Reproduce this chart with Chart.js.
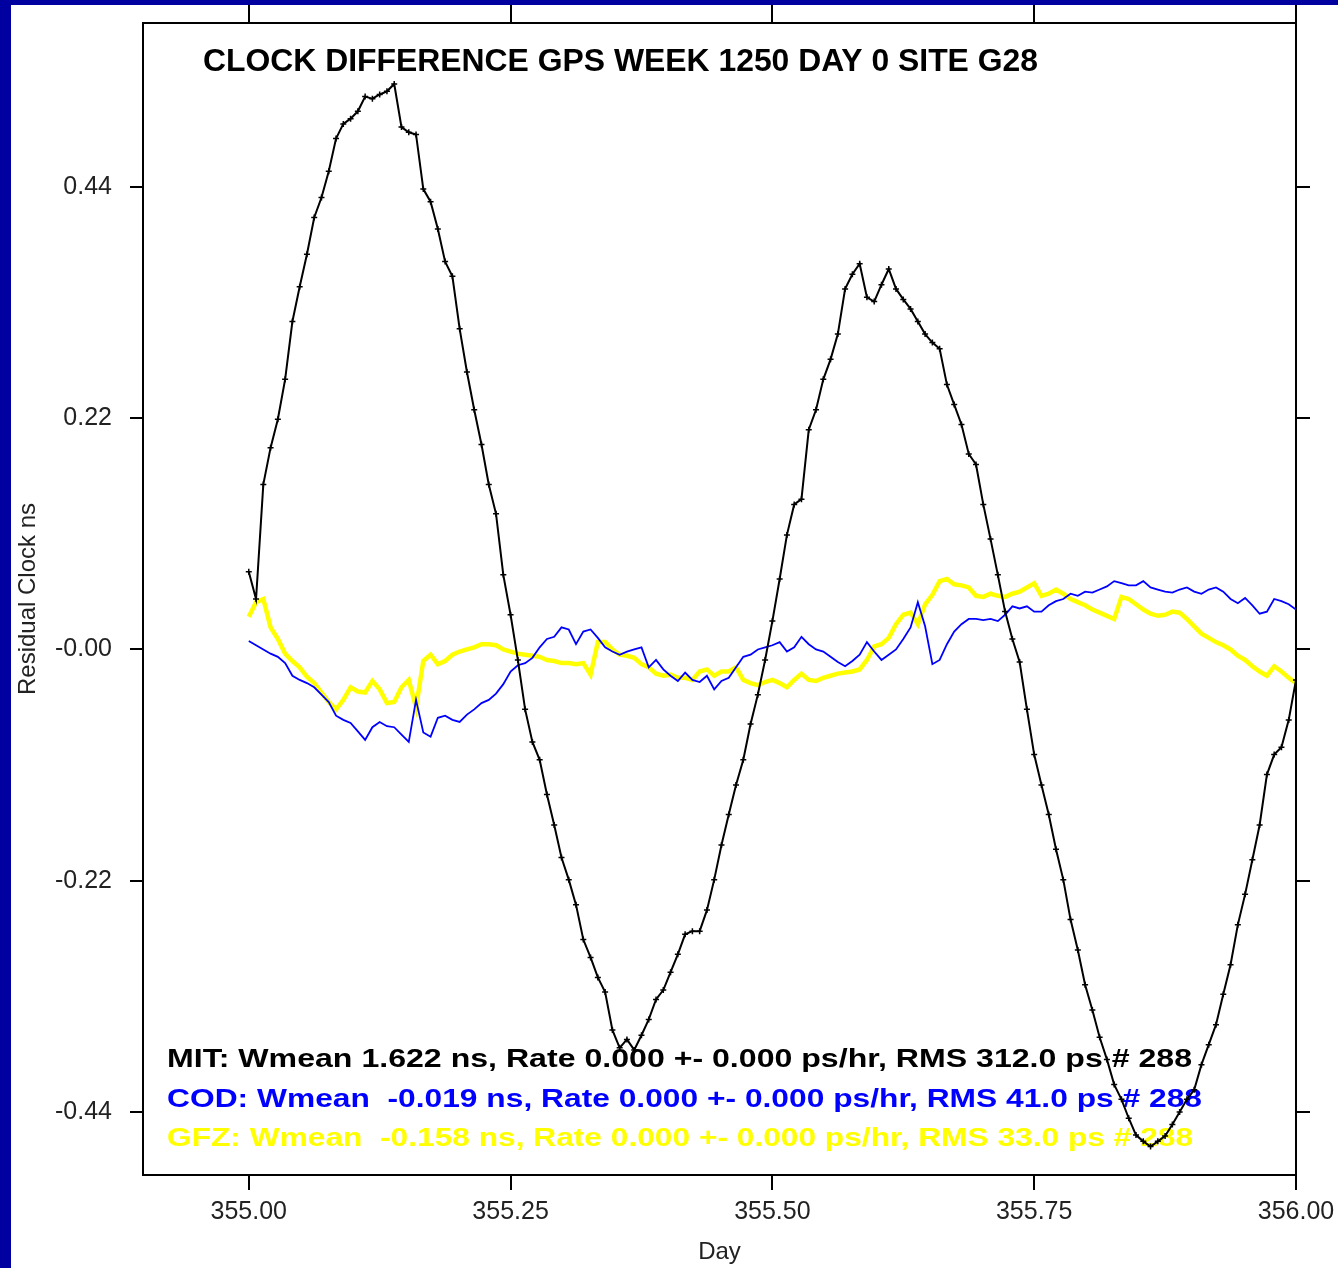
<!DOCTYPE html>
<html><head><meta charset="utf-8">
<script src="https://cdn.jsdelivr.net/npm/chart.js@4.4.1/dist/chart.umd.min.js"></script>
<style>
html,body{margin:0;padding:0;background:#0000A0;width:1338px;height:1268px;overflow:hidden;}
#wrap{position:absolute;left:11px;top:5px;width:1327px;height:1263px;background:#fff;}
canvas{display:block;}
</style></head><body>
<div id="wrap"><canvas id="c" width="1327" height="1263"></canvas></div>
<script>
// sample epochs: every 10 minutes of day 355
const sampleMinutes = 10;
const days = [];
for (let i = 0; i <= 144; i++) days.push(355 + i * sampleMinutes / 1440);

const mitClock = [0.074,0.048,0.157,0.192,0.219,0.257,0.312,0.345,0.376,0.411,
0.430,0.455,0.486,0.500,0.505,0.512,0.526,0.524,0.528,0.531,
0.538,0.497,0.492,0.490,0.438,0.426,0.400,0.369,0.355,0.305,
0.264,0.228,0.195,0.157,0.129,0.071,0.033,-0.010,-0.057,-0.088,
-0.105,-0.138,-0.167,-0.198,-0.219,-0.243,-0.276,-0.293,-0.312,-0.326,
-0.362,-0.379,-0.371,-0.381,-0.367,-0.352,-0.333,-0.324,-0.307,-0.290,
-0.271,-0.268,-0.268,-0.248,-0.219,-0.186,-0.157,-0.129,-0.105,-0.071,
-0.043,-0.010,0.027,0.067,0.109,0.138,0.143,0.209,0.228,0.257,
0.276,0.300,0.343,0.357,0.367,0.335,0.331,0.347,0.362,0.343,
0.333,0.324,0.312,0.300,0.292,0.286,0.252,0.233,0.214,0.186,
0.176,0.138,0.105,0.071,0.036,0.010,-0.012,-0.057,-0.100,-0.129,
-0.157,-0.190,-0.219,-0.257,-0.286,-0.319,-0.343,-0.369,-0.390,-0.414,
-0.428,-0.446,-0.462,-0.468,-0.473,-0.468,-0.463,-0.452,-0.440,-0.428,
-0.419,-0.395,-0.376,-0.357,-0.328,-0.300,-0.262,-0.233,-0.200,-0.167,
-0.119,-0.100,-0.093,-0.067,-0.029];

const codClock = [0.008,0.004,0.000,-0.004,-0.007,-0.013,-0.025,-0.029,-0.032,-0.036,
-0.043,-0.050,-0.063,-0.067,-0.070,-0.078,-0.086,-0.074,-0.069,-0.073,
-0.074,-0.081,-0.088,-0.048,-0.079,-0.083,-0.065,-0.063,-0.067,-0.069,
-0.062,-0.057,-0.051,-0.048,-0.042,-0.033,-0.021,-0.015,-0.013,-0.008,
0.002,0.010,0.012,0.021,0.019,0.005,0.017,0.019,0.011,0.002,
-0.002,-0.005,-0.002,0.000,0.002,-0.017,-0.010,-0.019,-0.025,-0.030,
-0.022,-0.029,-0.031,-0.025,-0.038,-0.030,-0.027,-0.017,-0.007,-0.005,
0.000,0.002,0.004,0.007,-0.002,0.002,0.012,0.005,0.000,-0.002,
-0.007,-0.012,-0.016,-0.011,-0.005,0.007,-0.002,-0.010,-0.005,0.000,
0.010,0.021,0.045,0.022,-0.014,-0.010,0.005,0.017,0.024,0.029,
0.029,0.028,0.029,0.027,0.033,0.041,0.039,0.041,0.036,0.036,
0.042,0.046,0.048,0.053,0.051,0.055,0.054,0.057,0.060,0.065,
0.063,0.061,0.061,0.065,0.059,0.057,0.055,0.054,0.057,0.059,
0.055,0.053,0.057,0.059,0.055,0.048,0.044,0.049,0.042,0.034,
0.036,0.048,0.046,0.043,0.038];

const gfzClock = [0.031,0.045,0.048,0.021,0.010,-0.004,-0.011,-0.017,-0.026,-0.032,
-0.041,-0.050,-0.057,-0.048,-0.036,-0.040,-0.041,-0.030,-0.038,-0.051,
-0.050,-0.036,-0.029,-0.055,-0.011,-0.005,-0.014,-0.011,-0.005,-0.002,
0.000,0.002,0.005,0.005,0.004,0.000,-0.002,-0.004,-0.005,-0.006,
-0.007,-0.010,-0.011,-0.013,-0.013,-0.014,-0.013,-0.024,0.007,0.007,
0.000,-0.005,-0.006,-0.008,-0.014,-0.017,-0.023,-0.025,-0.024,-0.027,
-0.027,-0.029,-0.021,-0.019,-0.025,-0.021,-0.021,-0.017,-0.029,-0.032,
-0.034,-0.031,-0.029,-0.032,-0.036,-0.029,-0.023,-0.029,-0.030,-0.027,
-0.025,-0.023,-0.022,-0.021,-0.019,-0.010,0.003,0.005,0.011,0.024,
0.033,0.035,0.024,0.043,0.052,0.065,0.067,0.062,0.061,0.059,
0.051,0.050,0.053,0.051,0.050,0.053,0.055,0.059,0.063,0.051,
0.053,0.057,0.053,0.048,0.045,0.042,0.038,0.035,0.032,0.029,
0.050,0.048,0.043,0.038,0.034,0.032,0.033,0.036,0.035,0.029,
0.022,0.015,0.011,0.007,0.004,0.000,-0.006,-0.010,-0.016,-0.021,
-0.025,-0.016,-0.021,-0.027,-0.032];

const xTickValues = [355.00, 355.25, 355.50, 355.75, 356.00];
const yTickValues = [-0.44, -0.22, 0.00, 0.22, 0.44];
const yTickLabels = ['-0.44', '-0.22', '-0.00', '0.22', '0.44'];

const titleText = 'CLOCK DIFFERENCE GPS WEEK 1250 DAY 0 SITE G28';
const statLines = [
  { text: 'MIT: Wmean 1.622 ns, Rate 0.000 +- 0.000 ps/hr, RMS 312.0 ps # 288', color: '#000000', width: 1025 },
  { text: 'COD: Wmean  -0.019 ns, Rate 0.000 +- 0.000 ps/hr, RMS 41.0 ps # 288', color: '#0000FF', width: 1035 },
  { text: 'GFZ: Wmean  -0.158 ns, Rate 0.000 +- 0.000 ps/hr, RMS 33.0 ps # 288', color: '#FFFF00', width: 1026 }
];

const toPts = arr => arr.map((v, i) => ({ x: days[i], y: v }));

function drawFitted(ctx, text, x, y, w, font, color) {
  ctx.save();
  ctx.font = font;
  const m = ctx.measureText(text).width;
  ctx.translate(x, y);
  ctx.scale(w / m, 1);
  ctx.fillStyle = color;
  ctx.textBaseline = 'middle';
  ctx.textAlign = 'left';
  ctx.fillText(text, 0, 0);
  ctx.restore();
}

const textPlugin = {
  id: 'texts',
  beforeDatasetsDraw(chart) {
    const ctx = chart.ctx;
    drawFitted(ctx, titleText, 192, 57, 835, 'bold 31px "Liberation Sans"', '#000');
    statLines.forEach((s, k) => drawFitted(ctx, s.text, 156, 1055 + 39.5 * k, s.width, 'bold 26px "Liberation Sans"', s.color));
  }
};

const tickFont = { family: '"Liberation Sans"', size: 25 };
const axisCommon = (tl) => ({
  grid: { drawOnChartArea: false, drawTicks: true, tickLength: tl, color: '#000', lineWidth: 2 },
  border: { display: true, color: '#000', width: 2 }
});
const noPad = s => { s.paddingTop = 0; s.paddingBottom = 0; s.paddingLeft = 0; s.paddingRight = 0; };

new Chart(document.getElementById('c'), {
  type: 'line',
  data: {
    datasets: [
      { label: 'MIT', data: toPts(mitClock), borderColor: '#000', borderWidth: 2,
        pointStyle: 'cross', pointRadius: 3, pointBorderWidth: 1.5, pointBorderColor: '#000', tension: 0, order: 0 },
      { label: 'COD', data: toPts(codClock), borderColor: '#0000FF', borderWidth: 1.8, pointRadius: 0, tension: 0, order: 1 },
      { label: 'GFZ', data: toPts(gfzClock), borderColor: '#FFFF00', borderWidth: 4.5, pointRadius: 0, tension: 0, order: 2 }
    ]
  },
  options: {
    responsive: false, animation: false, devicePixelRatio: 1,
    layout: { padding: 0 },
    plugins: { legend: { display: false }, tooltip: { enabled: false }, title: { display: false } },
    scales: {
      x: {
        type: 'linear', position: 'bottom', min: 354.899, max: 356.0,
        afterBuildTicks: s => { s.ticks = xTickValues.map(v => ({ value: v })); },
        afterFit: s => { s.height = 93; noPad(s); },
        ticks: { color: '#222', font: tickFont, padding: 7, maxRotation: 0, autoSkip: false,
          callback: v => Number(v).toFixed(2) },
        title: { display: true, text: 'Day', color: '#222', font: { family: '"Liberation Sans"', size: 24 }, padding: { top: 0, bottom: 1 } },
        ...axisCommon(15)
      },
      x2: {
        type: 'linear', position: 'top', min: 354.899, max: 356.0,
        afterBuildTicks: s => { s.ticks = xTickValues.map(v => ({ value: v })); },
        afterFit: s => { s.height = 18; noPad(s); },
        ticks: { display: false },
        ...axisCommon(18)
      },
      y: {
        type: 'linear', position: 'left', min: -0.5, max: 0.596,
        afterBuildTicks: s => { s.ticks = yTickValues.map(v => ({ value: v })); },
        afterFit: s => { s.width = 132; noPad(s); },
        ticks: { color: '#222', font: tickFont, padding: 18, autoSkip: false,
          callback: v => { const k = yTickValues.findIndex(t => Math.abs(t - v) < 1e-9); return k >= 0 ? yTickLabels[k] : ''; } },
        title: { display: true, text: 'Residual Clock ns', color: '#222', font: { family: '"Liberation Sans"', size: 24 }, padding: { top: 3, bottom: 0 } },
        ...axisCommon(13)
      },
      y2: {
        type: 'linear', position: 'right', min: -0.5, max: 0.596,
        afterBuildTicks: s => { s.ticks = yTickValues.map(v => ({ value: v })); },
        afterFit: s => { s.width = 42; noPad(s); },
        ticks: { display: false },
        ...axisCommon(14)
      }
    }
  },
  plugins: [textPlugin]
});
</script>
</body></html>
